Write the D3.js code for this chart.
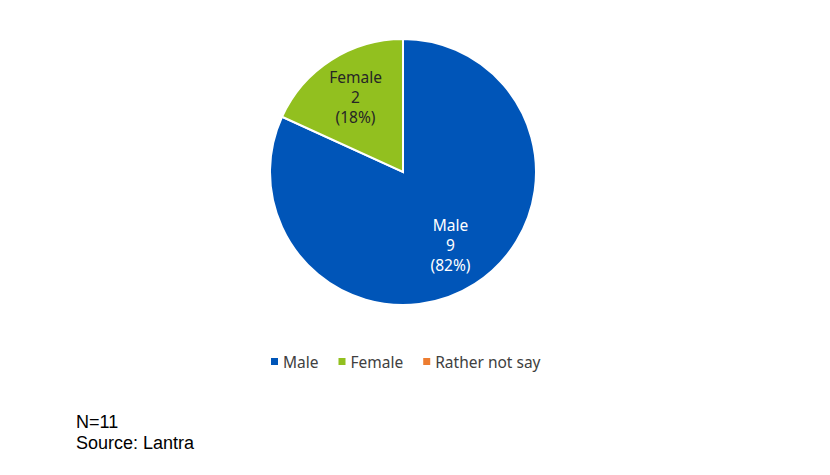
<!DOCTYPE html>
<html>
<head>
<meta charset="utf-8">
<script src="https://cdn.jsdelivr.net/npm/d3@7"></script>
<style>
  body { margin: 0; background: #fff; }
  text { font-family: "Noto Sans", sans-serif; }
</style>
</head>
<body>
<div class="canvas"></div>
<script>
const categories = ['Male', 'Female', 'Rather not say'];
const counts = [9, 2, 0];
const colours = ['#0055B8', '#92C01F', '#ED7D31'];
const labelColours = ['#ffffff', '#262626', '#262626'];
const footer = ['N=11', 'Source: Lantra'];

const width = 830;
const height = 475;
const cx = 403, cy = 172, radius = 133;

const svg = d3.select('.canvas')
  .append('svg')
  .attr('width', width)
  .attr('height', height);

const data = categories.map((c, i) => ({ name: c, value: counts[i], colour: colours[i], label: labelColours[i] }));
const total = d3.sum(counts);

const pie = d3.pie()
  .value(d => d.value)
  .sort(null);

const arc = d3.arc()
  .innerRadius(0)
  .outerRadius(radius);

const labelArc = d3.arc()
  .innerRadius(radius * 0.66)
  .outerRadius(radius * 0.66);

const graph = svg.append('g')
  .attr('transform', `translate(${cx}, ${cy})`);

const arcs = pie(data);

graph.selectAll('path')
  .data(arcs)
  .enter()
  .append('path')
  .attr('d', arc)
  .attr('fill', d => d.data.colour)
  .attr('stroke', '#fff')
  .attr('stroke-width', 2);

const labels = graph.selectAll('.slice-label')
  .data(arcs.filter(d => d.data.value > 0))
  .enter()
  .append('text')
  .attr('class', 'slice-label')
  .attr('transform', d => `translate(${labelArc.centroid(d)})`)
  .attr('text-anchor', 'middle')
  .style('font-size', '15.5px')
  .attr('fill', d => d.data.label);

labels.each(function (d) {
  const lines = [d.data.name, d.data.value, `(${Math.round(d.data.value / total * 100)}%)`];
  d3.select(this).selectAll('tspan')
    .data(lines)
    .enter()
    .append('tspan')
    .attr('x', 0)
    .attr('y', (l, i) => (i - 1) * 20 + 5)
    .text(l => l);
});

// legend
const legend = svg.append('g')
  .attr('transform', 'translate(271, 362)');
let lx = 0;
data.forEach(d => {
  const item = legend.append('g').attr('transform', `translate(${lx}, 0)`);
  item.append('rect')
    .attr('x', 0).attr('y', -4)
    .attr('width', 7).attr('height', 7)
    .attr('fill', d.colour);
  const t = item.append('text')
    .attr('x', 12).attr('y', 5.5)
    .style('font-size', '15.5px')
    .attr('fill', '#404040')
    .text(d.name);
  lx += 12 + t.node().getComputedTextLength() + 20;
});

// footer notes
svg.selectAll('.note')
  .data(footer)
  .enter()
  .append('text')
  .attr('class', 'note')
  .attr('x', 76)
  .attr('y', (d, i) => 428 + i * 21)
  .style('font-family', '"Liberation Sans", Arial, sans-serif')
  .style('font-size', '18px')
  .attr('fill', '#000')
  .text(d => d);
</script>
</body>
</html>
